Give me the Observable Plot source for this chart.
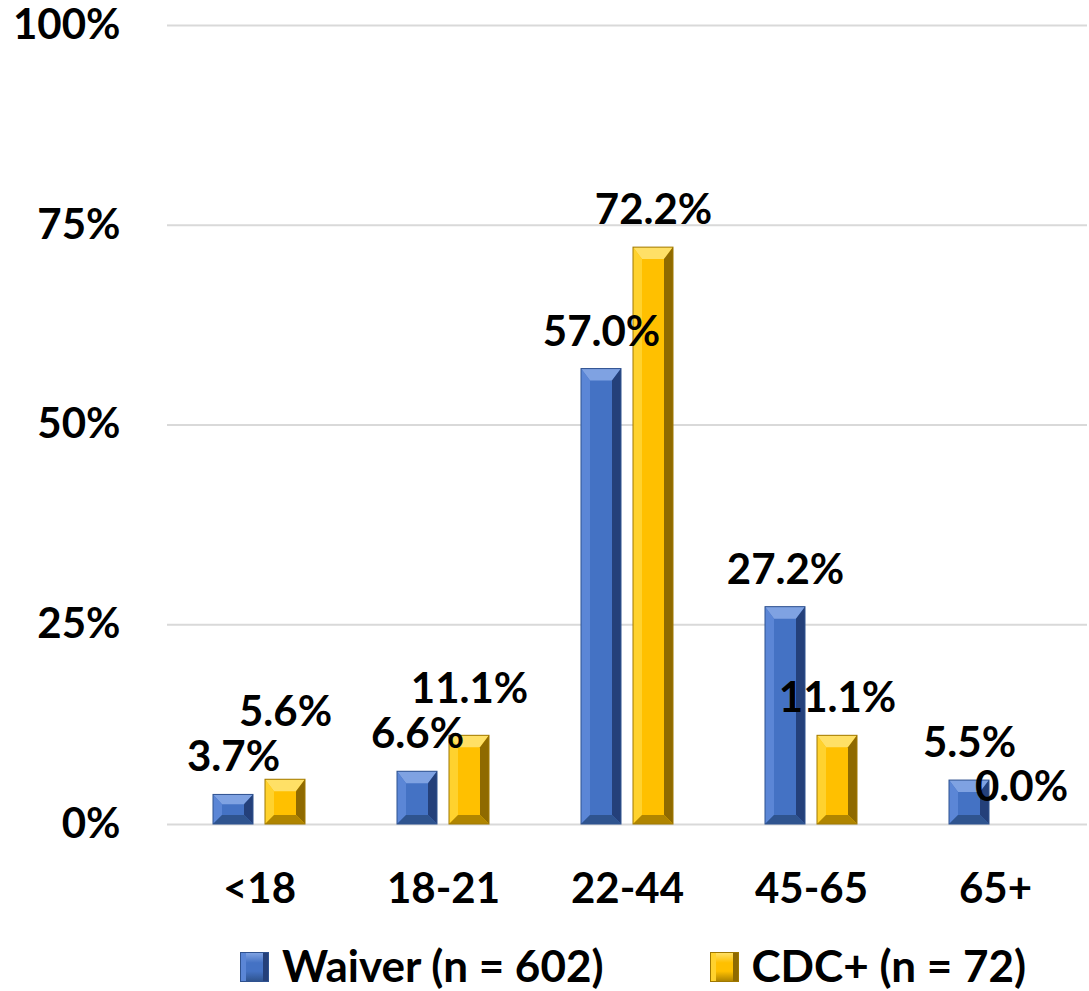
<!DOCTYPE html>
<html>
<head>
<meta charset="utf-8">
<script src="https://cdn.jsdelivr.net/npm/d3@7"></script>
<script src="https://cdn.jsdelivr.net/npm/@observablehq/plot@0.6"></script>
<style>
  html, body { margin: 0; padding: 0; background: #fff; }
  body { width: 1089px; height: 991px; overflow: hidden; font-family: Lato, "Open Sans", sans-serif; }
  #chart svg { display: block; font-family: Lato, "Open Sans", sans-serif; font-weight: 700; overflow: visible; }
  .legend { display: flex; justify-content: flex-start; align-items: center; box-sizing: border-box; height: 71px; padding-top: 19px; padding-left: 241px; font-weight: 700; font-size: 44px; color: #000; line-height: 1; }
  .legend .item { display: flex; align-items: center; }
  .legend .sw { width: 27px; height: 28px; margin-right: 14px; box-sizing: border-box; position: relative; top: 2px; }
</style>
</head>
<body>
<div id="chart"></div>
<div class="legend" id="legend"></div>
<script>
const categories = ["<18", "18-21", "22-44", "45-65", "65+"];
const series = ["Waiver (n = 602)", "CDC+ (n = 72)"];
const waiver = [3.7, 6.6, 57.0, 27.2, 5.5];
const cdc = [5.6, 11.1, 72.2, 11.1, 0.0];
const yTicks = [0, 0.25, 0.5, 0.75, 1];

const faceColors = ["#4472C4", "#FFC000"];
const bevel = [
  {top: "#7fa2e2", left: "#5b86d6", right: "#24407a", bottom: "#2f548f", stroke: "#2f528f"},
  {top: "#ffe066", left: "#ffd22e", right: "#8f6a00", bottom: "#b08500", stroke: "#a07800"}
];

const W = 1089, H = 920, MT = 25, MB = 96, ML = 165;
const plotH = H - MT - MB;
const labelGap = 45 / plotH; // minimum vertical separation of labels in a group (data units)

const data = [];
categories.forEach((c, i) => {
  const w = waiver[i] / 100, k = cdc[i] / 100;
  // lift the second label when it would collide with the first one
  const kLabel = (k >= w && k - w < labelGap) ? w + labelGap : k;
  data.push({cat: c, series: series[0], value: w, labelAt: w});
  data.push({cat: c, series: series[1], value: k, labelAt: kLabel});
});

const chart = Plot.plot({
  width: W,
  height: H,
  marginLeft: ML,
  marginRight: 0,
  marginTop: MT,
  marginBottom: MB,
  style: {fontSize: "42px", fontWeight: 700},
  fx: {domain: categories, padding: 0, label: null},
  x: {domain: series, paddingInner: 0.226, paddingOuter: 0.858, axis: null},
  y: {domain: [0, 1], axis: null},
  color: {domain: series, range: faceColors},
  marks: [
    Plot.ruleY(yTicks, {stroke: "#d9d9d9", strokeWidth: 2}),
    Plot.axisY({ticks: yTicks, tickSize: 0, tickPadding: 47, tickFormat: d3.format(".0%"), label: null, fontSize: 42, fontWeight: 700}),
    Plot.axisFx({anchor: "bottom", tickSize: 0, tickPadding: 49, label: null, fontSize: 42, fontWeight: 700}),
    Plot.barY(data, {fx: "cat", x: "series", y: "value", fill: "series", className: "bevelbars"}),
    Plot.text(data, {fx: "cat", x: "series", y: "labelAt", text: d => d3.format(".1%")(d.value), dy: -37, fontSize: 42, fontWeight: 700, fill: "#000"})
  ]
});

// add bevel facets to each bar, derived from the rendered rect geometry
chart.querySelectorAll("g.bevelbars rect").forEach(rect => {
  const x = +rect.getAttribute("x"), y = +rect.getAttribute("y");
  const w = +rect.getAttribute("width"), h = +rect.getAttribute("height");
  if (!(h > 0.5)) { rect.remove(); return; }
  const si = rect.getAttribute("fill") === faceColors[0] ? 0 : 1;
  const b = bevel[si];
  const s = Math.min(9, w / 4, h / 3);
  const st = Math.min(12, h / 3);
  const ns = "http://www.w3.org/2000/svg";
  const parent = rect.parentNode;
  const polys = [
    [b.top, [[x, y], [x + w, y], [x + w - s, y + st], [x + s, y + st]]],
    [b.left, [[x, y], [x + s, y + st], [x + s, y + h - s], [x, y + h]]],
    [b.right, [[x + w, y], [x + w, y + h], [x + w - s, y + h - s], [x + w - s, y + st]]],
    [b.bottom, [[x, y + h], [x + s, y + h - s], [x + w - s, y + h - s], [x + w, y + h]]]
  ];
  const next = rect.nextSibling;
  polys.forEach(([fill, pts]) => {
    const p = document.createElementNS(ns, "polygon");
    p.setAttribute("points", pts.map(q => q.join(",")).join(" "));
    p.setAttribute("fill", fill);
    parent.insertBefore(p, next);
  });
  const o = document.createElementNS(ns, "rect");
  o.setAttribute("x", x); o.setAttribute("y", y); o.setAttribute("width", w); o.setAttribute("height", h);
  o.setAttribute("fill", "none"); o.setAttribute("stroke", b.stroke); o.setAttribute("stroke-width", "1");
  parent.insertBefore(o, next);
});

document.getElementById("chart").appendChild(chart);

const legend = document.getElementById("legend");
series.forEach((s, i) => {
  const item = document.createElement("div");
  item.className = "item";
  if (i > 0) item.style.marginLeft = "107px";
  const sw = document.createElement("div");
  sw.className = "sw";
  const b = bevel[i];
  sw.style.background = `linear-gradient(180deg, ${b.top} 0%, ${faceColors[i]} 35%, ${faceColors[i]} 65%, ${b.bottom} 100%)`;
  sw.style.borderLeft = `5px solid ${b.left}`;
  sw.style.borderRight = `5px solid ${b.right}`;
  sw.style.outline = `1px solid ${b.stroke}`;
  const t = document.createElement("span");
  t.textContent = s;
  item.appendChild(sw); item.appendChild(t);
  legend.appendChild(item);
});
</script>
</body>
</html>
